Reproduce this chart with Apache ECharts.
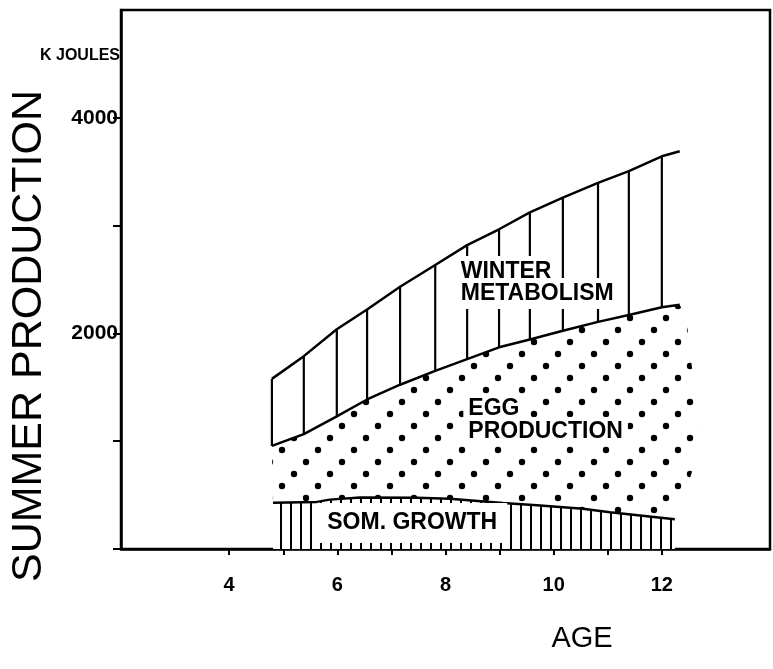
<!DOCTYPE html>
<html>
<head>
<meta charset="utf-8">
<script src="https://cdn.jsdelivr.net/npm/echarts@6/dist/echarts.min.js"></script>
<style>
  html, body { margin: 0; padding: 0; background: #fff; }
  #chart { width: 773px; height: 669px; }
</style>
</head>
<body>
<div id="chart"></div>
<script>
// ---- data ----
const ageTicks = [4, 5, 6, 7, 8, 9, 10, 11, 12];
const ageLabels = [4, 6, 8, 10, 12];
const energyTicks = [0, 1000, 2000, 3000, 4000];
const energyLabels = [2000, 4000];

// Winter metabolism band (upper and lower boundaries), kJ
const winterAges   = [4.79, 5.38, 5.99, 6.55, 7.16, 7.81, 8.40, 8.99, 9.56, 10.17, 10.82, 11.39, 12.00, 12.33];
const winterTop    = [1578, 1789, 2038, 2222, 2433, 2635, 2819, 2966, 3122, 3259, 3396, 3506, 3643, 3690];
const winterBottom = [956, 1066, 1231, 1387, 1524, 1652, 1762, 1871, 1943, 2025, 2107, 2170, 2242, 2265];

// Somatic growth band (upper boundary), kJ
const somAges = [4.81, 5.62, 5.86, 6.42, 7.47, 8.08, 9.06, 9.69, 10.54, 11.04, 12.24];
const somTop  = [430, 437, 458, 478, 475, 467, 426, 405, 373, 340, 277];

// Right-hand edge of the dotted egg production area
const eggEdgeAges   = [12.45, 12.68, 12.55, 12.24];
const eggEdgeValues = [2150, 1150, 700, 300];

const regionNames = ['WINTER', 'METABOLISM', 'EGG', 'PRODUCTION', 'SOM. GROWTH'];

// ---- helpers ----
const zip = (a, b) => a.map((v, i) => [v, b[i]]);
const FONT = 'Liberation Sans';

function dotTile() {
  const c = document.createElement('canvas');
  c.width = 36; c.height = 36;
  const g = c.getContext('2d');
  g.fillStyle = '#000';
  [[6, 6], [18, 30], [30, 18]].forEach(([x, y]) => {
    g.beginPath(); g.arc(x, y, 3.2, 0, Math.PI * 2); g.fill();
  });
  return c;
}
function lineTile() {
  const c = document.createElement('canvas');
  c.width = 10; c.height = 10;
  const g = c.getContext('2d');
  g.fillStyle = '#fff'; g.fillRect(0, 0, 10, 10);
  g.fillStyle = '#000'; g.fillRect(0, 0, 2, 10);
  return c;
}
const dotPattern = { image: dotTile(), repeat: 'repeat' };
const hatchPattern = { image: lineTile(), repeat: 'repeat' };

// Egg production polygon: under winter band, right edge, above som growth
const eggPolygon = zip(winterAges, winterBottom)
  .concat(zip(eggEdgeAges, eggEdgeValues))
  .concat(zip(somAges, somTop).reverse());

// winter hatch lines at each boundary vertex (except the end point)
const winterHatch = winterAges.slice(0, -1).map((a, i) => [a, winterBottom[i], winterTop[i]]);

const chart = echarts.init(document.getElementById('chart'), null, { renderer: 'canvas' });

const textBase = { fontSize: 23, fontWeight: 'bold', fontFamily: FONT, color: '#000', opacity: 1 };

const option = {
  animation: false,
  backgroundColor: '#fff',
  grid: {
    left: 121, right: 3, top: 10, bottom: 120,
    show: true, borderColor: '#000', borderWidth: 2.5, backgroundColor: 'transparent'
  },
  xAxis: {
    type: 'value', min: 2, max: 14, interval: 1,
    axisLine: { lineStyle: { color: '#000', width: 2.5 } },
    axisTick: { show: true, customValues: ageTicks, length: 6, lineStyle: { color: '#000', width: 2 } },
    axisLabel: { customValues: ageLabels, color: '#000', fontSize: 20, fontWeight: 'bold', fontFamily: FONT, margin: 26 },
    splitLine: { show: false }
  },
  yAxis: {
    type: 'value', min: 0, max: 5000, interval: 1000,
    axisLine: { show: true, lineStyle: { color: '#000', width: 2.5 } },
    axisTick: { show: true, customValues: energyTicks, length: 8, lineStyle: { color: '#000', width: 2 } },
    axisLabel: {
      customValues: energyLabels, color: '#000', fontSize: 21, fontWeight: 'bold', fontFamily: FONT, margin: 3,
      formatter: v => String(v)
    },
    splitLine: { show: false }
  },
  graphic: [
    { type: 'text', x: 120, y: 56, style: { text: 'K JOULES', fill: '#000', font: 'bold 16px ' + FONT, align: 'right', verticalAlign: 'middle' } },
    { type: 'text', x: 29, y: 336, rotation: Math.PI / 2, style: { text: 'SUMMER PRODUCTION', fill: '#000', font: '43px ' + FONT, align: 'center', verticalAlign: 'middle' } },
    { type: 'text', x: 582, y: 639, style: { text: 'AGE', fill: '#000', font: '29px ' + FONT, align: 'center', verticalAlign: 'middle' } }
  ],
  series: [
    {
      name: 'egg', type: 'custom', z: 1, silent: true,
      data: eggPolygon,
      renderItem: function (params, api) {
        if (params.dataIndex !== 0) return null;
        const pts = eggPolygon.map(p => api.coord(p));
        return { type: 'polygon', shape: { points: pts }, style: { fill: dotPattern, stroke: null } };
      }
    },
    {
      name: 'som', type: 'line', z: 2, silent: true,
      data: zip(somAges, somTop), symbol: 'none',
      lineStyle: { color: '#000', width: 2.5 },
      areaStyle: { color: hatchPattern, opacity: 1 }
    },
    {
      name: 'winterHatch', type: 'custom', z: 3, silent: true,
      data: winterHatch, encode: { x: 0, y: [1, 2] },
      renderItem: function (params, api) {
        const a = api.coord([api.value(0), api.value(1)]);
        const b = api.coord([api.value(0), api.value(2)]);
        return { type: 'line', shape: { x1: a[0], y1: a[1], x2: b[0], y2: b[1] }, style: { stroke: '#000', lineWidth: 2.2 } };
      }
    },
    {
      name: 'winterTop', type: 'line', z: 4, silent: true,
      data: zip(winterAges, winterTop), symbol: 'none',
      lineStyle: { color: '#000', width: 2.5 }
    },
    {
      name: 'winterBottom', type: 'line', z: 4, silent: true,
      data: zip(winterAges, winterBottom), symbol: 'none',
      lineStyle: { color: '#000', width: 2.5 }
    },
    {
      name: 'labels', type: 'scatter', z: 10, silent: true,
      symbol: 'circle', symbolSize: 1, itemStyle: { color: 'rgba(0,0,0,0)', opacity: 1 },
      label: { show: true, position: 'right', distance: 0, color: '#000', opacity: 1 },
      data: [
        {
          value: [8.18, 2472],
          label: {
            formatter: '{a|' + regionNames[0] + '}\n{a|' + regionNames[1] + '}',
            rich: { a: Object.assign({}, textBase, { backgroundColor: '#fff', padding: [4, 5], lineHeight: 22 }) }
          }
        },
        {
          value: [8.32, 1197],
          label: {
            formatter: '{a|' + regionNames[2] + '}\n{a|' + regionNames[3] + '}',
            rich: { a: Object.assign({}, textBase, { backgroundColor: '#fff', padding: [3, 5], lineHeight: 23 }) }
          }
        },
        {
          value: [5.62, 241],
          label: Object.assign({ formatter: regionNames[4], backgroundColor: '#fff', padding: [9, 10], lineHeight: 22 }, textBase)
        }
      ]
    }
  ]
};
chart.setOption(option);
</script>
</body>
</html>
